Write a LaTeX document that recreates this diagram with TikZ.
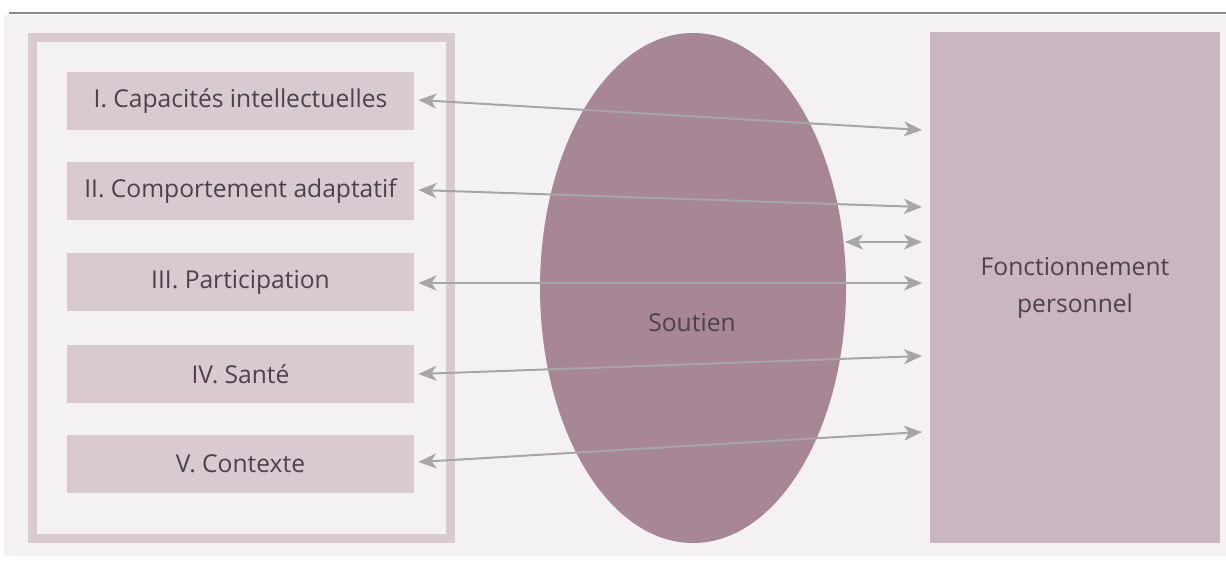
\documentclass[tikz,border=0pt]{standalone}
\usepackage{fontspec}
\setmainfont{Open Sans}
\usetikzlibrary{arrows.meta}
\definecolor{bgc}{HTML}{F4F1F3}
\definecolor{framec}{HTML}{D8CAD1}
\definecolor{boxc}{HTML}{D9CAD2}
\definecolor{ellc}{HTML}{A78696}
\definecolor{rightc}{HTML}{C9B6C1}
\definecolor{arrc}{HTML}{A6A6A6}
\definecolor{txtc}{HTML}{4B424A}
\definecolor{linec}{HTML}{8A8A8A}
\tikzset{
  lbl/.style={text=txtc, font=\fontsize{12.3}{18.5}\selectfont},
  itembox/.style={lbl, fill=boxc, draw=none, minimum width=173.5pt, minimum height=29pt, inner sep=0pt},
  arr/.style={draw=arrc, line width=1pt, {Stealth[length=9pt,width=7.5pt,inset=2.5pt]}-{Stealth[length=9pt,width=7.5pt,inset=2.5pt]}},
}
\begin{document}
\begin{tikzpicture}[x=0.5pt,y=-0.5pt]
\useasboundingbox (0,0) rectangle (1226,561);
\fill[white] (0,0) rectangle (1226,561);
\fill[bgc] (4,15) rectangle (1226,556);
\draw[linec, line width=1.2pt] (9,13) -- (1226,13);
% left frame
\node[draw=framec, line width=4.5pt, minimum width=209pt, minimum height=250.5pt, inner sep=0pt] (frame) at (241.5,288) {};
% items
\node[itembox] (b1) at (240.5,101) {I. Capacités intellectuelles};
\node[itembox] (b2) at (240.5,191) {II. Comportement adaptatif};
\node[itembox] (b3) at (240.5,282) {III. Participation};
\node[itembox] (b4) at (240.5,374) {IV. Santé};
\node[itembox] (b5) at (240.5,464) {V. Contexte};
% ellipse
\fill[ellc] (693,288) ellipse [x radius=153, y radius=255];
\node[lbl] (sout) at (692,323) {Soutien};
% right rect
\node[lbl, fill=rightc, minimum width=145pt, minimum height=255.5pt, inner sep=0pt, align=center] (fp) at (1075,287.5) {Fonctionnement\\personnel};
% arrow ends
\coordinate (r1) at (922,130);
\coordinate (r2) at (922,207);
\coordinate (r3) at (922,283);
\coordinate (r4) at (922,356);
\coordinate (r5) at (922,432);
\coordinate (s1) at (845,242);
\coordinate (s2) at (922,242);
\draw[arr] ([xshift=2pt,yshift=0.5pt]b1.east) -- (r1);
\draw[arr] ([xshift=2pt,yshift=0.5pt]b2.east) -- (r2);
\draw[arr] ([xshift=2pt,yshift=-0.5pt]b3.east) -- (r3);
\draw[arr] ([xshift=2pt]b4.east) -- (r4);
\draw[arr] ([xshift=2pt,yshift=1pt]b5.east) -- (r5);
\draw[arr] (s1) -- (s2);
\end{tikzpicture}
\end{document}
